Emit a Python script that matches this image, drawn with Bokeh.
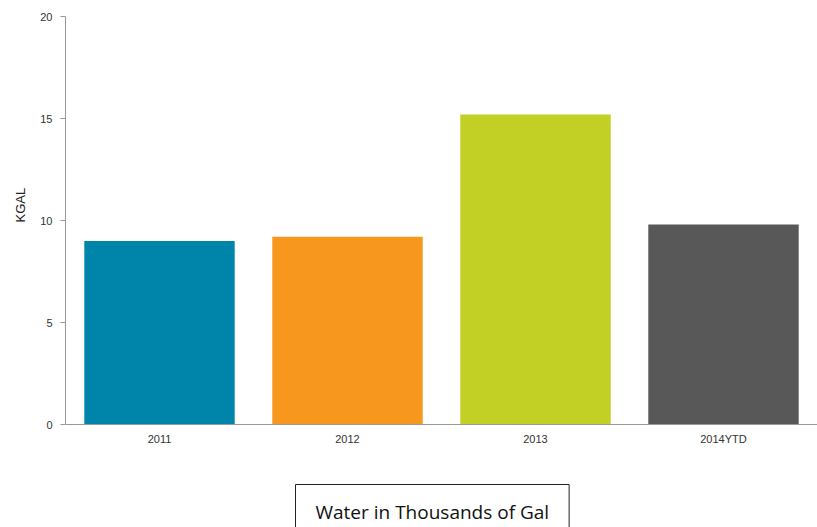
from bokeh.plotting import figure
from bokeh.models import Range1d, FactorRange, Label, Title, ColumnDataSource
from bokeh.embed import file_html
from bokeh.resources import INLINE

categories = ["2011", "2012", "2013", "2014YTD"]
values = [9.0, 9.2, 15.2, 9.8]
colors = ["#0085AA", "#F7971E", "#C2CF24", "#585858"]
y_ticks = [0, 5, 10, 15, 20]

src = ColumnDataSource(dict(cat=categories, val=values, color=colors))

# frame spans from top 16px to the canvas bottom; y=0 sits 103px above the bottom
px_per_unit = 408 / 20.0
y_start = -103 / px_per_unit

p = figure(width=817, height=527, output_backend="svg", toolbar_location=None,
           x_range=FactorRange(*categories, range_padding=0), y_range=Range1d(y_start, 20),
           min_border_left=63, min_border_top=16, min_border_bottom=0, min_border_right=0)
p.vbar(x="cat", top="val", width=0.8, fill_color="color", line_color=None, source=src)

p.xgrid.visible = False
p.ygrid.visible = False
p.outline_line_color = None
p.background_fill_color = "white"

p.yaxis.ticker = y_ticks
p.yaxis.bounds = (0, 20)
p.yaxis.major_tick_out = 5
p.yaxis.major_tick_in = 0
p.yaxis.minor_tick_line_color = None
p.yaxis.major_label_standoff = 8
p.yaxis.major_tick_line_color = "#999999"

p.xaxis.fixed_location = 0
p.xaxis.major_tick_line_color = None
p.xaxis.major_tick_out = 0
p.xaxis.major_tick_in = 0
p.xaxis.minor_tick_line_color = None
p.xaxis.major_label_standoff = 8

for ax in (p.xaxis, p.yaxis):
    ax.axis_line_color = "#999999"
    ax.major_label_text_font = "Liberation Sans"
    ax.major_label_text_font_size = "11px"
    ax.major_label_text_color = "#333333"

ylab = Title(text="KGAL", align="left", offset=305, standoff=20,
             text_font="Liberation Sans", text_font_size="13px", text_font_style="normal",
             text_color="#222222")
p.add_layout(ylab, "left")

cap = Label(x=230, x_units="screen", y=-60 / px_per_unit, y_units="data",
            text="Water in Thousands of Gal", text_align="left", text_baseline="top",
            text_font="Open Sans", text_font_size="19px", text_color="#111111",
            border_line_color="#222222", border_line_width=1,
            background_fill_color="white",
            padding=dict(left=20, right=20, top=14, bottom=30))
p.add_layout(cap)

open("out.html", "w").write(file_html(p, INLINE))
